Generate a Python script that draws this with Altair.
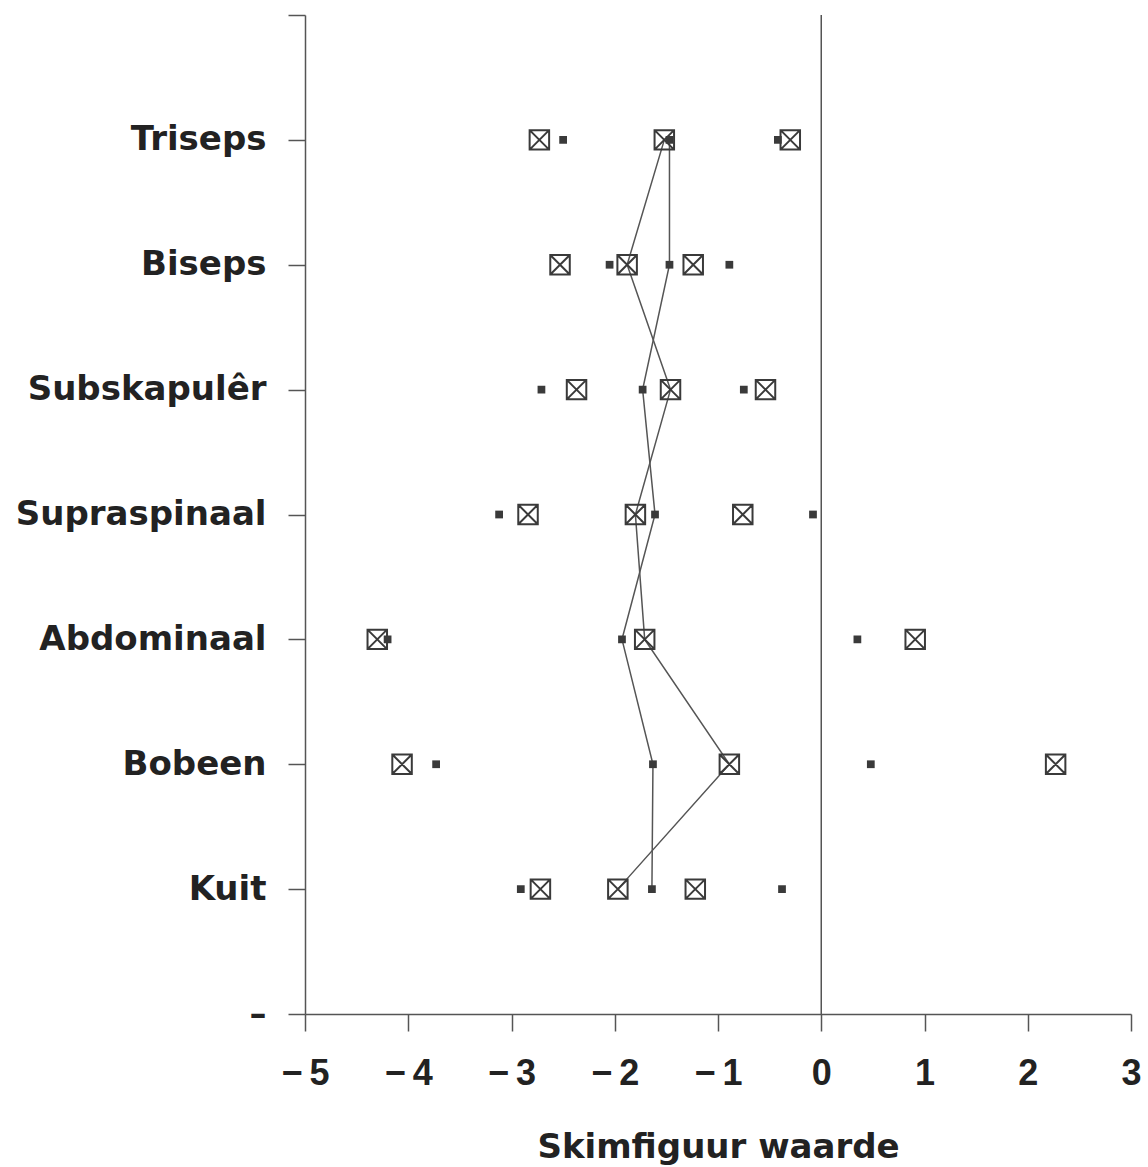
import altair as alt
import pandas as pd

# Skinfold sites, top to bottom
sites = ["Triseps", "Biseps", "Subskapulêr", "Supraspinaal", "Abdominaal", "Bobeen", "Kuit"]

# Boxed-cross series: lower, middle and upper values per site
box_low = [-2.73, -2.53, -2.37, -2.84, -4.30, -4.06, -2.72]
box_mid = [-1.52, -1.88, -1.46, -1.80, -1.71, -0.89, -1.97]
box_high = [-0.30, -1.24, -0.54, -0.76, 0.91, 2.27, -1.22]

# Small-square series: lower, middle and upper values per site
dot_low = [-2.50, -2.05, -2.71, -3.12, -4.20, -3.73, -2.91]
dot_mid = [-1.47, -1.47, -1.73, -1.61, -1.93, -1.63, -1.64]
dot_high = [-0.42, -0.89, -0.75, -0.08, 0.35, 0.48, -0.38]

x_ticks = [-5, -4, -3, -2, -1, 0, 1, 2, 3]
zero_line = [0]

rows = []
for series, parts in (("box", (box_low, box_mid, box_high)), ("dot", (dot_low, dot_mid, dot_high))):
    for level, vals in zip(("low", "mid", "high"), parts):
        for i, (site, v) in enumerate(zip(sites, vals)):
            rows.append({"site": site, "pos": i + 1, "series": series, "level": level, "value": v})
df = pd.DataFrame(rows)

# Axis slots: an empty slot above the first site, and a dash below the last
slot_labels = [""] + sites + ["–"]
label_expr = "[" + ", ".join("'" + s + "'" for s in slot_labels) + "][datum.value]"

# Negative tick labels get a spaced minus sign
x_label_expr = "datum.value < 0 ? '\u2212\u2009' + abs(datum.value) : '' + datum.value"

ink = "#3a3a3a"
axis_col = "#555555"

x_enc = alt.X(
    "value:Q",
    scale=alt.Scale(domain=[-5, 3], nice=False, zero=False),
    axis=alt.Axis(
        values=x_ticks,
        labelExpr=x_label_expr,
        title="Skimfiguur waarde",
        titleFont="DejaVu Sans",
        titleFontSize=34,
        titleFontWeight="bold",
        titleColor="#222222",
        titleY=143,
        titleBaseline="alphabetic",
        labelFont="Liberation Sans",
        labelFontSize=36,
        labelFontWeight="bold",
        labelColor="#222222",
        labelPadding=53,
        labelBaseline="alphabetic",
        labelOverlap=False,
        labelFlush=False,
        labelLimit=0,
        tickSize=17,
        tickColor=axis_col,
        tickWidth=1.5,
        domainColor=axis_col,
        domainWidth=1.5,
        grid=False,
    ),
)
y_enc = alt.Y(
    "pos:Q",
    scale=alt.Scale(domain=[0, 8], reverse=True, nice=False, zero=False),
    axis=alt.Axis(
        values=list(range(len(slot_labels))),
        labelExpr=label_expr,
        title=None,
        labelFont="DejaVu Sans",
        labelFontSize=34,
        labelFontWeight="bold",
        labelColor="#222222",
        labelPadding=22,
        labelBaseline="middle",
        labelOverlap=False,
        labelFlush=False,
        labelLimit=0,
        tickSize=17,
        tickColor=axis_col,
        tickWidth=1.5,
        domainColor=axis_col,
        domainWidth=1.5,
        grid=False,
    ),
)

base = alt.Chart(df)

# Connecting lines through the middle values, ordered down the sites
lines = base.transform_filter(alt.datum.level == "mid").mark_line(
    color="#555555", strokeWidth=1.5
).encode(x=x_enc, y=y_enc, detail="series:N", order=alt.Order("pos:Q"))

box_shape = "M-1,-1H1V1H-1Z M-1,-1L1,1 M1,-1L-1,1"
boxes = base.transform_filter(alt.datum.series == "box").mark_point(
    shape=box_shape, size=380, filled=False, color=ink, strokeWidth=2, opacity=1
).encode(x=x_enc, y=y_enc)

dots = base.transform_filter(alt.datum.series == "dot").mark_point(
    shape="square", size=60, filled=True, color=ink, opacity=1
).encode(x=x_enc, y=y_enc)

zero = alt.Chart(pd.DataFrame({"z": zero_line})).mark_rule(
    color=axis_col, strokeWidth=1.5
).encode(x=alt.X("z:Q"))

chart = alt.layer(zero, lines, boxes, dots).properties(
    width=826,
    height=999,
    background="white",
    autosize=alt.AutoSizeParams(type="none"),
    padding={"left": 305, "top": 15, "right": 17, "bottom": 153},
).configure_view(stroke=None)

chart.save("out.html", embed_options={"renderer": "svg", "actions": False})
